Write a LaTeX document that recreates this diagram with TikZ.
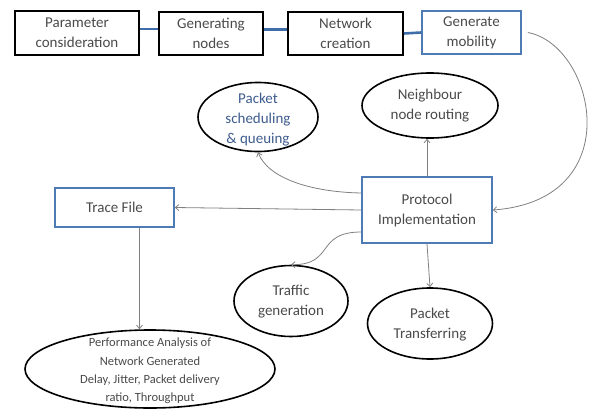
\documentclass[tikz,border=0pt]{standalone}
\usepackage{fontspec}
\setmainfont{Carlito}
\usetikzlibrary{shapes.geometric,arrows.meta,calc}
\definecolor{txt}{HTML}{4A4A4A}
\definecolor{bbl}{HTML}{4F7BB5}
\definecolor{lnk}{HTML}{3F6DAA}
\definecolor{arr}{HTML}{808080}
\definecolor{btxt}{HTML}{3E5C8E}
\begin{document}
\begin{tikzpicture}[x=1pt,y=-1pt,
 font=\fontsize{15}{20}\selectfont, text=txt,
 box/.style={draw=black,line width=1.6pt,inner sep=0pt,align=center},
 bbox/.style={draw=bbl,line width=1.6pt,inner sep=0pt,align=center},
 oval/.style={ellipse,draw=black,line width=1.6pt,inner sep=0pt},
 lbl/.style={inner sep=0pt,align=center},
 link/.style={draw=lnk,line width=2.6pt},
 arrow/.style={draw=arr,line width=0.8pt,-{Straight Barb[length=3.5pt,width=6pt]}}
]
\useasboundingbox (0,0) rectangle (592,410);
% top row
\node[box,minimum width=124pt,minimum height=44pt] (b1) at (77,33) {Parameter\\consideration};
\node[box,minimum width=104pt,minimum height=43pt] (b2) at (211,33.5) {Generating\\nodes};
\node[box,minimum width=115pt,minimum height=43pt] (b3) at (345.5,33.5) {Network\\creation};
\node[bbox,minimum width=99pt,minimum height=43pt] (b4) at (471.5,32.5) {Generate\\mobility};
\draw[link] ([yshift=4pt]b1.east) -- ([yshift=4pt]b1.east -| b2.west);
\draw[link] ([yshift=4pt]b2.east) -- ([yshift=4pt]b2.east -| b3.west);
\draw[link] (b3.east) -- (b4.west);
% middle
\node[bbox,minimum width=130pt,minimum height=66pt] (proto) at (427,210) {Protocol\\Implementation};
\node[bbox,minimum width=119pt,minimum height=39pt] (trace) at (114.5,207.5) {Trace File};
\node[oval,minimum width=120pt,minimum height=69pt] (sched) at (258,117) {};
\node[lbl,text=btxt] (schedt) at (258,120) {Packet\\scheduling\\\& queuing};
\node[oval,minimum width=136pt,minimum height=65pt] (neigh) at (430,105.5) {};
\node[lbl] (neight) at (430,106) {Neighbour\\node routing};
\node[oval,minimum width=114pt,minimum height=71pt] (traffic) at (291,301) {};
\node[lbl] (traffict) at (291,302) {Traffic\\generation};
\node[oval,minimum width=125pt,minimum height=71pt] (ptrans) at (430,323.5) {};
\node[lbl] (ptranst) at (430,325) {Packet\\Transferring};
\node[oval,minimum width=250pt,minimum height=78pt] (perf) at (150,369) {};
\node[lbl,font=\fontsize{12.5}{18.3}\selectfont] (perft) at (150,371) {Performance Analysis of\\Network Generated\\Delay, Jitter, Packet delivery\\ratio, Throughput};
% arrows
\draw[arrow] ([xshift=6pt]b4.east) .. controls (595,45) and (630,200) .. (proto.east);
\draw[arrow] ([yshift=17pt]proto.west) .. controls (310,192) and (268,178) .. (sched.south);
\draw[arrow] ([yshift=-22pt]proto.west) .. controls (315,232) and (335,265) .. (traffic.north);
\draw[arrow] (proto.west) -- (trace.east);
\draw[arrow] (proto.north) -- (proto.north |- neigh.south);
\draw[arrow] (proto.south) -- (ptrans.north);
\draw[arrow] ([xshift=25pt]trace.south) -- ([xshift=25pt]trace.south |- perf.north);
\end{tikzpicture}
\end{document}
